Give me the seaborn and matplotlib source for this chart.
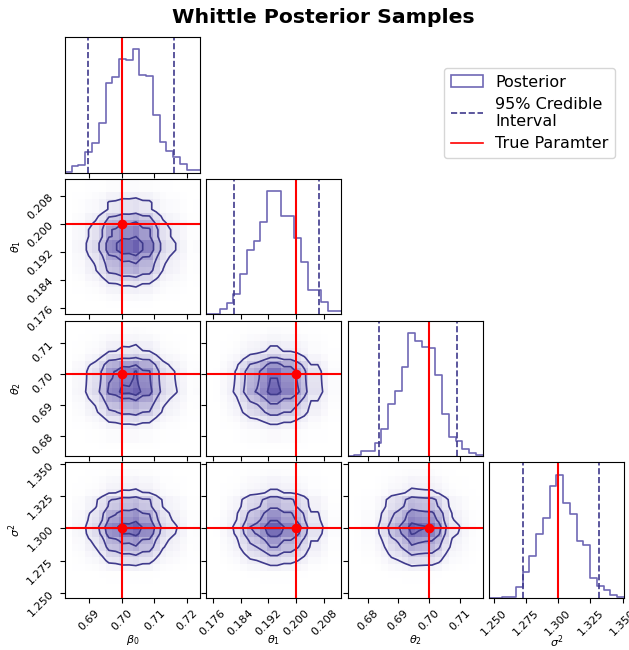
import numpy as np
import matplotlib
matplotlib.use("Agg")
import matplotlib.pyplot as plt
import seaborn as sns
from matplotlib.colors import LinearSegmentedColormap
from matplotlib.patches import Patch
from matplotlib.lines import Line2D

# parameter names and true values
labels = [r"$\beta_0$", r"$\theta_1$", r"$\theta_2$", r"$\sigma^2$"]
truths = [0.70, 0.20, 0.70, 1.30]

# min / max of the samples for each parameter (= axis limits)
ranges = [(0.6826, 0.7240), (0.1741, 0.2130), (0.6735, 0.7174), (1.2460, 1.3510)]

# 95% credible interval bounds
lower = [0.6896, 0.1821, 0.6838, 1.2725]
upper = [0.7161, 0.2065, 0.7091, 1.3315]

# 20-bin histogram counts
beta0_counts = [2, 20, 24, 62, 87, 149, 267, 284, 339, 334, 367, 292, 287, 172, 92, 64, 47, 27, 7, 9]
theta1_counts = [1, 2, 15, 35, 60, 120, 190, 217, 275, 365, 365, 290, 290, 227, 155, 72, 72, 38, 10, 10]
theta2_counts = [1, 4, 14, 14, 39, 80, 152, 192, 262, 362, 337, 322, 317, 239, 124, 57, 44, 22, 9, 4]
sigma2_counts = [0, 1, 2, 4, 33, 76, 126, 191, 238, 331, 366, 283, 250, 170, 156, 58, 35, 25, 10, 4]
counts = [beta0_counts, theta1_counts, theta2_counts, sigma2_counts]

# tick positions and labels
ticks = [
    [0.69, 0.70, 0.71, 0.72],
    [0.176, 0.184, 0.192, 0.200, 0.208],
    [0.68, 0.69, 0.70, 0.71],
    [1.250, 1.275, 1.300, 1.325, 1.350],
]
tick_labels = [
    ["0.69", "0.70", "0.71", "0.72"],
    ["0.176", "0.184", "0.192", "0.200", "0.208"],
    ["0.68", "0.69", "0.70", "0.71"],
    ["1.250", "1.275", "1.300", "1.325", "1.350"],
]

line_color = "#3f3a8c"
hist_color = "#7068b5"
density_cmap = LinearSegmentedColormap.from_list("density", ["#ffffff", "#6a60b0"])
levels = 1.0 - np.exp(-0.5 * np.arange(0.5, 2.1, 0.5) ** 2)

n = len(labels)
edges = [np.linspace(lo, hi, len(c) + 1) for (lo, hi), c in zip(ranges, counts)]
centers = [0.5 * (e[1:] + e[:-1]) for e in edges]

fig, axes = plt.subplots(n, n, figsize=(6.29, 6.5), dpi=100)
fig.subplots_adjust(left=0.1033, right=0.992, top=0.943, bottom=0.08, wspace=0.045, hspace=0.045)

for i in range(n):
    for j in range(n):
        ax = axes[i, j]
        if j > i:
            ax.set_axis_off()
            continue
        if i == j:
            # marginal histogram
            sns.histplot(x=centers[i], weights=counts[i], bins=edges[i].tolist(), element="step",
                         fill=False, color=hist_color, linewidth=1.2, ax=ax)
            ax.axvline(lower[i], color=line_color, ls="--", lw=1.2)
            ax.axvline(upper[i], color=line_color, ls="--", lw=1.2)
            ax.axvline(truths[i], color="red", lw=1.5)
            ax.set_ylim(0, 1.1 * max(counts[i]))
            ax.set_yticks([])
        else:
            # joint 2d histogram built from the two marginals
            H = np.outer(counts[i], counts[j]).astype(float)
            H /= H.sum()
            X, Y = np.meshgrid(centers[j], centers[i])
            sns.histplot(x=X.ravel(), y=Y.ravel(), weights=H.ravel(),
                         bins=(edges[j].tolist(), edges[i].tolist()), cmap=density_cmap, ax=ax)
            # contour levels enclosing given probability mass
            Hflat = np.sort(H.ravel())[::-1]
            cum = np.cumsum(Hflat)
            cum /= cum[-1]
            V = sorted(Hflat[cum <= lv][-1] for lv in levels)
            ax.contour(centers[j], centers[i], H, levels=V, colors=line_color, linewidths=1.2)
            ax.axvline(truths[j], color="red", lw=1.5)
            ax.axhline(truths[i], color="red", lw=1.5)
            ax.plot(truths[j], truths[i], "o", color="red", ms=6)
            ax.set_ylim(*ranges[i])
            ax.set_yticks(ticks[i])
            if j == 0:
                ax.set_yticklabels(tick_labels[i], rotation=45, fontsize=8)
                ax.set_ylabel(labels[i], fontsize=8)
                ax.yaxis.set_label_coords(-0.31, 0.5)
            else:
                ax.set_yticklabels([])
                ax.set_ylabel("")
        ax.set_xlim(*ranges[j])
        ax.set_xticks(ticks[j])
        if i == n - 1:
            ax.set_xticklabels(tick_labels[j], rotation=45, fontsize=8)
            ax.set_xlabel(labels[j], fontsize=8)
            ax.xaxis.set_label_coords(0.5, -0.26)
        else:
            ax.set_xticklabels([])
            ax.set_xlabel("")
        if i == j:
            ax.set_ylabel("")

handles = [
    Patch(facecolor="none", edgecolor=hist_color, linewidth=1.2),
    Line2D([], [], color=line_color, ls="--", lw=1.2),
    Line2D([], [], color="red", lw=1.2),
]
fig.legend(handles, ["Posterior", "95% Credible\nInterval", "True Paramter"],
           loc="upper right", bbox_to_anchor=(0.978, 0.895), borderaxespad=0, fontsize=11.5,
           labelspacing=0.45, borderpad=0.4, handlelength=2.0, handletextpad=0.8)

fig.suptitle("Whittle Posterior Samples", x=0.514, fontsize=14.7, fontweight="bold", y=0.988)
fig.savefig("out.png", dpi=100)
